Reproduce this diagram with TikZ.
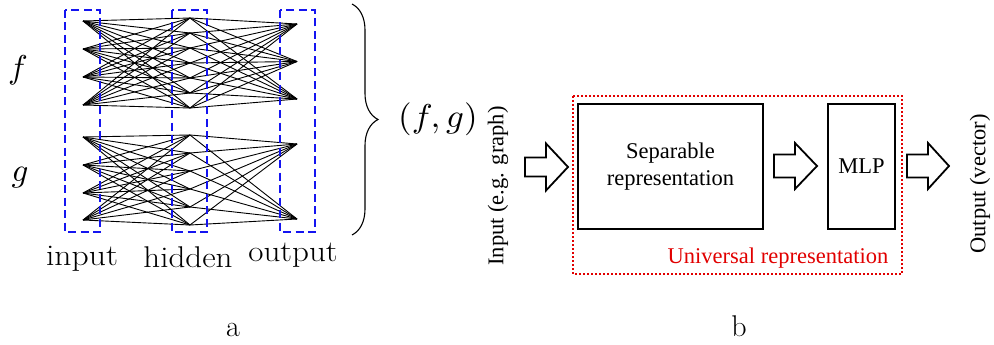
\documentclass[tikz,border=0pt]{standalone}
\usepackage{graphicx}
\usepackage{fontspec}
\newfontfamily\tms{Liberation Serif}
\usetikzlibrary{decorations.pathreplacing}
\definecolor{boxblue}{RGB}{20,20,240}
\definecolor{urred}{RGB}{225,0,0}
\begin{document}
\begin{tikzpicture}[x=1pt,y=-1pt,
  netedge/.style={line width=0.9pt,black},
  dashbox/.style={draw=boxblue,line width=2.3pt,dash pattern=on 8pt off 4.5pt},
  blockbox/.style={draw=black,line width=1.8pt},
  blockarrow/.style={draw=black,line width=1.8pt,fill=white},
  lmbig/.style={font=\fontsize{30}{35}\selectfont,inner sep=0pt},
  tmstext/.style={font=\tms\fontsize{22.5}{27}\selectfont,inner sep=0pt,align=center}]
\useasboundingbox (0,0) rectangle (994,345);
% ---- network f
\foreach \y [count=\i] in {21,49,77,105} \coordinate (fi\i) at (83,\y);
\foreach \k in {1,...,7} \coordinate (fh\k) at (190,{18+15*(\k-1)});
\foreach \y [count=\i] in {24,61.5,99} \coordinate (fo\i) at (297,\y);
% ---- network g
\foreach \y [count=\i] in {137,165,193,220} \coordinate (gi\i) at (83,\y);
\foreach \k in {1,...,6} \coordinate (gh\k) at (190,{135+18*(\k-1)});
\foreach \y [count=\i] in {144,219} \coordinate (go\i) at (297,\y);
% edges
\foreach \i in {1,...,4} \foreach \k in {1,...,7} \draw[netedge] (fi\i) -- (fh\k);
\foreach \k in {1,...,7} \foreach \o in {1,...,3} \draw[netedge] (fh\k) -- (fo\o);
\foreach \i in {1,...,4} \foreach \k in {1,...,6} \draw[netedge] (gi\i) -- (gh\k);
\foreach \k in {1,...,6} \foreach \o in {1,2} \draw[netedge] (gh\k) -- (go\o);
% dashed layer boxes
\draw[dashbox] (65,10) rectangle (100,232);
\draw[dashbox] (172,10) rectangle (207,232);
\draw[dashbox] (280,10) rectangle (315,232);
% labels
\node[inner sep=0pt] (lf) at (18,70) {\scalebox{3.3}{$f$}};
\node[inner sep=0pt] (lg) at (20,178) {\scalebox{3.3}{$g$}};
\node[lmbig,anchor=base] (linput) at (82,265) {\scalebox{1.12}[1]{input}};
\node[lmbig,anchor=base] (lhidden) at (188,267) {\scalebox{1.1}[1]{hidden}};
\node[lmbig,anchor=base] (loutput) at (293,261) {\scalebox{1.1}[1]{output}};
% brace
\coordinate (bt) at (352,4);
\coordinate (bb) at (352,235);
\draw[line width=1.1pt,decorate,decoration={brace,amplitude=26pt}] (bt) -- (bb);
\node[inner sep=0pt] (fg) at (438,119) {\scalebox{3.5}[3.3]{$(f,g)$}};
\node[font=\fontsize{30}{34}\selectfont,inner sep=0pt,anchor=base] (la) at (233,336) {a};
\node[font=\fontsize{30}{34}\selectfont,inner sep=0pt,anchor=base] (lb) at (739,336) {b};
% ---- right part
\node[tmstext,rotate=90] (inp) at (498,186) {Input (e.g. graph)};
\draw[blockarrow] (525,157.5) -- (546,157.5) -- (546,143.5) -- (568,167) -- (546,190.5) -- (546,176.5) -- (525,176.5) -- cycle;
\draw[draw=urred,line width=1.8pt,dash pattern=on 1.8pt off 2.2pt] (573,96) rectangle (902,274);
\node[blockbox,minimum width=185pt,minimum height=125pt,inner sep=0pt] (sep) at (670.5,166.5) {};
\node[tmstext] (septxt) at (sep.center) {Separable\\representation};
\draw[blockarrow] (774,154.5) -- (795,154.5) -- (795,143) -- (817,166) -- (795,189) -- (795,177.5) -- (774,177.5) -- cycle;
\node[blockbox,minimum width=67pt,minimum height=125pt,inner sep=0pt] (mlp) at (861.5,166.5) {};
\node[tmstext] (mlptxt) at (mlp.center) {MLP};
\draw[blockarrow] (907,154.5) -- (928,154.5) -- (928,143) -- (949,166) -- (928,189) -- (928,177.5) -- (907,177.5) -- cycle;
\node[tmstext,rotate=90] (outp) at (980,184) {Output (vector)};
\node[tmstext,text=urred] (univ) at (778,258) {Universal representation};
\end{tikzpicture}
\end{document}
